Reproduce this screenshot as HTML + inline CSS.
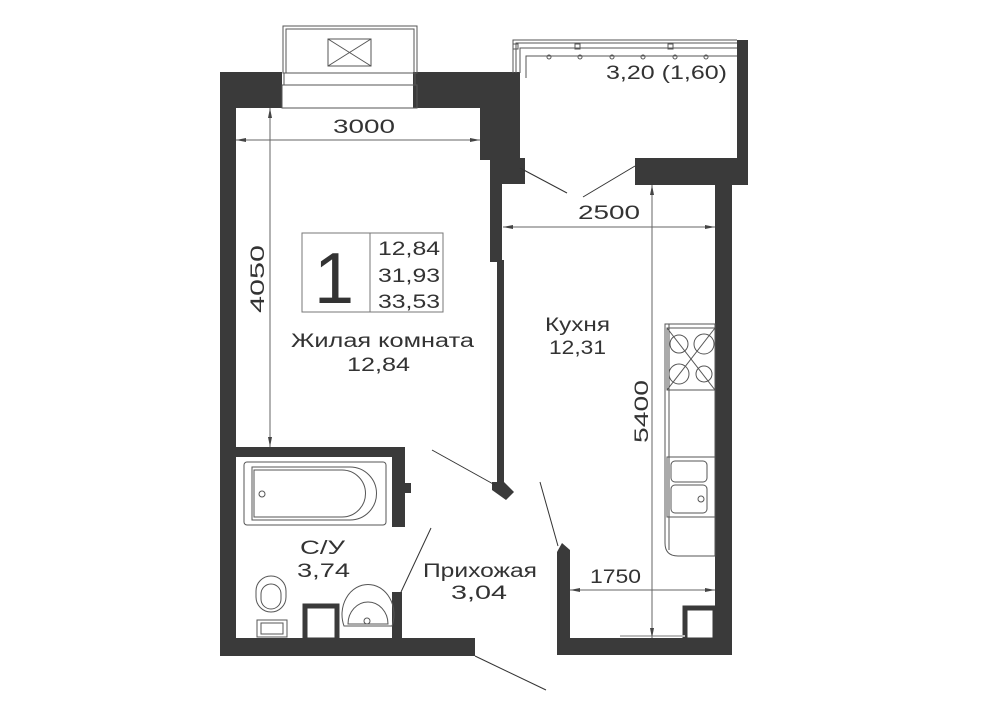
<!DOCTYPE html>
<html><head><meta charset="utf-8"><style>
html,body{margin:0;padding:0;background:#fff;}
svg{display:block;}
text{font-family:"Liberation Sans","DejaVu Sans",sans-serif;fill:#333;}
</style></head><body>
<svg width="1000" height="707" viewBox="0 0 1000 707" xmlns="http://www.w3.org/2000/svg">
<g fill="#3a3a3a">
<rect x="220" y="72" width="16" height="584"/>
<rect x="220" y="72" width="62" height="36"/>
<rect x="413" y="72" width="107" height="36"/>
<rect x="480" y="72" width="40" height="88"/>
<rect x="490" y="158" width="35" height="26"/>
<rect x="490" y="160" width="12" height="102"/>
<rect x="497" y="260" width="7" height="222"/>
<polygon points="492,482 504,482 514,492 506,500 492,490"/>
<rect x="737" y="40" width="11" height="145"/>
<rect x="635" y="158" width="113" height="27"/>
<rect x="715" y="185" width="17" height="470"/>
<rect x="557" y="638" width="175" height="17"/>
<rect x="557" y="552" width="13" height="103"/>
<polygon points="557,552 562,543 570,550 570,556 557,556"/>
<rect x="685" y="608" width="30" height="32" fill="none" stroke="#3a3a3a" stroke-width="5"/>
<rect x="236" y="447" width="169" height="10"/>
<rect x="392" y="447" width="13" height="80"/>
<rect x="405" y="483" width="6" height="10"/>
<rect x="392" y="592" width="10" height="48"/>
<rect x="220" y="638" width="255" height="18"/>
<rect x="305" y="606" width="32" height="34" fill="none" stroke="#3a3a3a" stroke-width="5"/>
</g>
<g fill="none" stroke="#555" stroke-width="1">
<rect x="283" y="26" width="134" height="47"/>
<rect x="286" y="29" width="128" height="44"/>
<rect x="328" y="39" width="43" height="27"/>
<line x1="328" y1="39" x2="371" y2="66"/><line x1="371" y1="39" x2="328" y2="66"/>
<rect x="284" y="73" width="131" height="12"/>
<rect x="282" y="85" width="135" height="23"/>
<polyline points="513,73 513,40 737,40"/>
<polyline points="516,73 516,43 737,43"/>
<polyline points="520,73 520,48 737,48"/>
<polyline points="526,78 526,56 737,56"/>
<rect x="513" y="44" width="5" height="5"/><rect x="575" y="44" width="5" height="5"/><rect x="668" y="44" width="5" height="5"/>
<circle cx="549" cy="57" r="2"/><circle cx="580" cy="57" r="2"/><circle cx="612" cy="57" r="2"/><circle cx="643" cy="57" r="2"/><circle cx="675" cy="57" r="2"/><circle cx="706" cy="57" r="2"/>
<line x1="520" y1="168" x2="567" y2="193" stroke="#333"/>
<line x1="635" y1="166" x2="583" y2="197" stroke="#333"/>
<line x1="432" y1="450" x2="495" y2="485" stroke="#333"/>
<line x1="540" y1="482" x2="558" y2="546" stroke="#333"/>
<line x1="431" y1="528" x2="401" y2="592" stroke="#333"/>
<line x1="475" y1="656" x2="546" y2="690" stroke="#333"/>
<rect x="302" y="233" width="141" height="79" stroke="#777"/>
<line x1="370" y1="233" x2="370" y2="312" stroke="#777"/>
<rect x="244" y="462" width="142" height="63" rx="3"/>
<path d="M252 467 H350 A26 26 0 0 1 350 520 H252 Z"/>
<path d="M254 470 H342 A23 23 0 0 1 342 517 H254 Z"/>
<circle cx="262" cy="494" r="3"/>
<rect x="256" y="576" width="30" height="36" rx="15"/>
<rect x="261" y="584" width="20" height="25" rx="10"/>
<rect x="257" y="620" width="30" height="17"/>
<rect x="261" y="623" width="22" height="11"/>
<path d="M344 626 A26 30 0 1 1 392 626 Z"/>
<path d="M348 624 A20 22 0 1 1 388 624 Z"/>
<circle cx="367" cy="621" r="3"/>
<path d="M665 324 H715 V556 H678 Q665 556 665 543 Z"/>
<line x1="669" y1="324" x2="669" y2="550"/>
<rect x="667" y="328" width="48" height="62"/>
<line x1="667" y1="328" x2="715" y2="390"/><line x1="715" y1="328" x2="667" y2="390"/>
<circle cx="679" cy="344" r="9"/><circle cx="704" cy="344" r="10"/>
<circle cx="679" cy="374" r="10"/><circle cx="704" cy="374" r="8"/>
<rect x="667" y="457" width="48" height="60"/>
<rect x="671" y="461" width="36" height="21" rx="4"/>
<rect x="671" y="485" width="36" height="28" rx="4"/>
<circle cx="701" cy="499" r="3"/>
<line x1="236" y1="140" x2="480" y2="140" stroke="#666"/>
<line x1="270" y1="108" x2="270" y2="447" stroke="#666"/>
<line x1="503" y1="227" x2="715" y2="227" stroke="#666"/>
<line x1="652" y1="185" x2="652" y2="638" stroke="#666"/>
<line x1="570" y1="590" x2="715" y2="590" stroke="#666"/>
<line x1="620" y1="636" x2="685" y2="636" stroke="#bbb" stroke-width="2"/>
</g>
<g fill="#444">
<polygon points="236,140 246,138 246,142"/><polygon points="480,140 470,138 470,142"/>
<polygon points="270,108 268,118 272,118"/><polygon points="270,447 268,437 272,437"/>
<polygon points="503,227 513,225 513,229"/><polygon points="715,227 705,225 705,229"/>
<polygon points="652,185 650,195 654,195"/><polygon points="652,638 650,628 654,628"/>
<polygon points="570,590 580,588 580,592"/><polygon points="715,590 705,588 705,592"/>
</g>
<g font-size="19">
<text x="333" y="133" textLength="62" lengthAdjust="spacingAndGlyphs">3000</text>
<text x="578" y="219" textLength="62" lengthAdjust="spacingAndGlyphs">2500</text>
<text x="590" y="583" textLength="51" lengthAdjust="spacingAndGlyphs">1750</text>
<text x="606" y="79" textLength="121" lengthAdjust="spacingAndGlyphs">3,20 (1,60)</text>
<text transform="translate(264,313) rotate(-90)" textLength="68" lengthAdjust="spacingAndGlyphs">4050</text>
<text transform="translate(648,443) rotate(-90)" textLength="63" lengthAdjust="spacingAndGlyphs">5400</text>
<text x="291" y="347" textLength="183" lengthAdjust="spacingAndGlyphs">Жилая комната</text>
<text x="347" y="371" textLength="63" lengthAdjust="spacingAndGlyphs">12,84</text>
<text x="545" y="331" textLength="65" lengthAdjust="spacingAndGlyphs">Кухня</text>
<text x="549" y="354" textLength="57" lengthAdjust="spacingAndGlyphs">12,31</text>
<text x="300" y="554" textLength="45" lengthAdjust="spacingAndGlyphs">С/У</text>
<text x="297" y="577" textLength="53" lengthAdjust="spacingAndGlyphs">3,74</text>
<text x="423" y="577" textLength="114" lengthAdjust="spacingAndGlyphs">Прихожая</text>
<text x="451" y="599" textLength="56" lengthAdjust="spacingAndGlyphs">3,04</text>
<text x="378" y="255" textLength="62" lengthAdjust="spacingAndGlyphs">12,84</text>
<text x="378" y="282" textLength="62" lengthAdjust="spacingAndGlyphs">31,93</text>
<text x="378" y="308" textLength="62" lengthAdjust="spacingAndGlyphs">33,53</text>
</g>
<text x="334" y="303" font-size="72" text-anchor="middle" style="font-weight:300">1</text>
</svg>
</body></html>
